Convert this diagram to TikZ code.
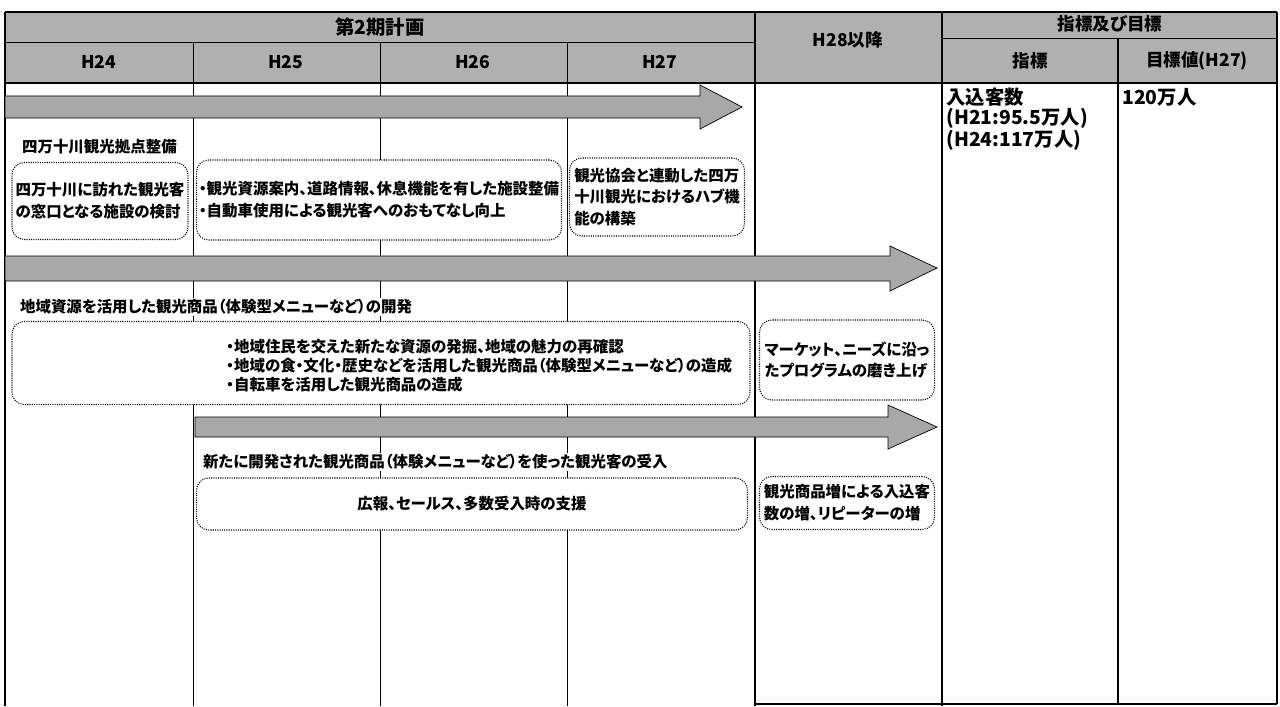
\documentclass[tikz,border=0pt]{standalone}
\usepackage{fontspec}
\setmainfont{Noto Sans CJK JP}[RawFeature=+palt]
\usetikzlibrary{positioning}

\begin{document}
\begin{tikzpicture}[x=0.02cm,y=-0.02cm,font=\bfseries\fontsize{8.8}{12.4}\selectfont,
    hdr/.style={fill=gray!62},
    plan/.style={draw,line width=0.6pt,dash pattern=on 0.6pt off 0.7pt,rounded corners=7pt,fill=white,inner sep=0pt,align=left},
    task/.style={fill=white,inner sep=1pt,anchor=west},
    band/.style={draw,fill=gray!68},
    year/.style={font=\bfseries\fontsize{10}{12}\selectfont},
  ]
  \useasboundingbox (0,0) rectangle (1280,706);
  % header
  \fill[hdr] (5,12) rectangle (1277,83);
  \draw (5,42) -- (755,42);
  \draw (942,38) -- (1277,38);
  \foreach \x in {193,380,567} \draw (\x,42) -- (\x,706);
  \draw[thick] (5,12) -- (1277,12);
  \draw[thick] (5,83) -- (1277,83);
  \draw[thick] (5,12) -- (5,706);
  \draw[thick] (755,12) -- (755,706);
  \draw[thick] (942,12) -- (942,706);
  \draw[thick] (1118,38) -- (1118,704);
  \draw[thick] (1277,12) -- (1277,704);
  \draw[thick] (755,704) -- (1277,704);
  \node[year,font=\bfseries\fontsize{11}{13}\selectfont] (plan2) at (380,27) {第2期計画};
  \foreach \yr [count=\i] in {24,...,27}
    \node[year] (h\yr) at (5+187*\i-93.5,62) {H\yr};
  \node[year] (h28) at (848,40) {H28以降};
  \node[year] (goal) at (1110,24) {指標及び目標};
  \node[year] (ind) at (1030,61) {指標};
  \node[year] (val) at (1197,61) {目標値(H27)};

  % arrows
  \draw[band] (5,96) -- (700,96) -- (700,85) -- (742,107) -- (700,129) -- (700,118) -- (5,118) -- cycle;
  \draw[band] (5,256) -- (890,256) -- (890,246) -- (937,268) -- (890,291) -- (890,281) -- (5,281) -- cycle;
  \draw[band] (195,417) -- (888,417) -- (888,405) -- (937,427) -- (888,449) -- (888,437) -- (195,437) -- cycle;

  % row 1
  \node[task] (base) at (20,147) {四万十川観光拠点整備};
  \node[plan,minimum width={176*0.02cm},minimum height={77*0.02cm}] (study) at (100,201) {四万十川に訪れた観光客\\の窓口となる施設の検討};
  \node[plan,minimum width={365*0.02cm},minimum height={80*0.02cm}] (facil) at (379,200) {・観光資源案内、道路情報、休息機能を有した施設整備\\・自動車使用による観光客へのおもてなし向上};
  \node[plan,minimum width={175*0.02cm},minimum height={78*0.02cm}] (hub) at (657,197) {観光協会と連動した四万\\十川観光におけるハブ機\\能の構築};

  % row 2
  \node[task] (dev) at (18,307) {地域資源を活用した観光商品（体験型メニューなど）の開発};
  \node[plan,minimum width={738*0.02cm},minimum height={83*0.02cm}] (local) at (381,363) {};
  \node[anchor=west,align=left,inner sep=0pt,font=\bfseries\fontsize{8.8}{10.8}\selectfont] (localtxt) at (226,366)
    {・地域住民を交えた新たな資源の発掘、地域の魅力の再確認\\・地域の食・文化・歴史などを活用した観光商品（体験型メニューなど）の造成\\・自転車を活用した観光商品の造成};
  \node[plan,minimum width={175*0.02cm},minimum height={80*0.02cm}] (brush) at (847,360) {マーケット、ニーズに沿っ\\たプログラムの磨き上げ};

  % row 3
  \node[task] (accept) at (201,462) {新たに開発された観光商品（体験メニューなど）を使った観光客の受入};
  \node[plan,minimum width={551*0.02cm},minimum height={52*0.02cm}] (support) at (472,504) {広報、セールス、多数受入時の支援};
  \node[plan,minimum width={175*0.02cm},minimum height={53*0.02cm}] (repeat) at (847,503) {観光商品増による入込客\\数の増、リピーターの増};

  % indicators
  \node[anchor=north west,align=left,inner sep=0pt,font=\bfseries\fontsize{11}{8.4}\selectfont] (visit) at (946,88)
    {入込客数\\(H21:95.5万人)\\(H24:117万人)};
  \node[anchor=north west,inner sep=0pt,font=\bfseries\fontsize{11}{12}\selectfont] (target) at (1122,88) {120万人};
\end{tikzpicture}
\end{document}
